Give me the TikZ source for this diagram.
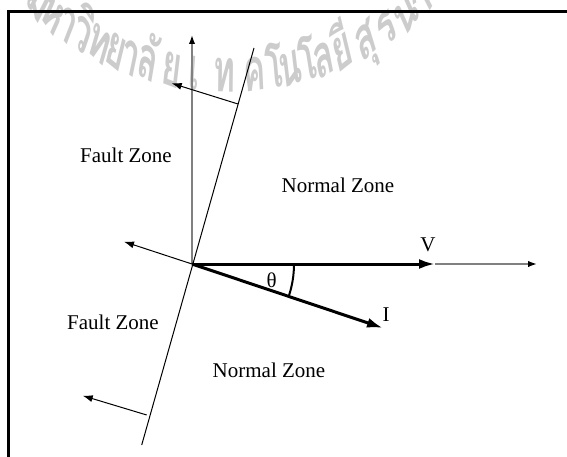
\documentclass[tikz,border=0pt]{standalone}
\usepackage{fontspec}
\setmainfont{Liberation Serif}
\newfontfamily\thaifont[Script=Thai]{Loma}
\usetikzlibrary{arrows.meta}

\begin{document}
\begin{tikzpicture}[x=0.5pt,y=0.5pt,
	every node/.style={font=\fontsize{10.5}{12}\selectfont},
	refaxis/.style={draw=gray,line width=0.75pt,-{Latex[length=4.5pt,width=3.2pt,color=black]}},
	phasor/.style={line width=1.5pt,-{Latex[length=8pt,width=5pt]}},
	faultnormal/.style={line width=0.5pt,-{Latex[length=5pt,width=3.5pt]}},
	wmark/.style={font=\thaifont\bfseries\fontsize{30}{34}\selectfont,text=gray!40,anchor=base,inner sep=0pt,xscale=0.55}]
	\useasboundingbox (0,0) rectangle (567,456);
	% watermark
	\foreach \a/\c [count=\i] in {-133/ม,-129.1/ห,-125.4/า,-121.8/วิ,-117.7/ท,-114/ย,-110.8/า,-107/ลั,-101.9/ย,-97.3/เ,-91.2/ท,-84.9/ค,-80.9/โ,-77.6/น,-73.8/โ,-70.5/ล,-66.4/ยี,-61.1/สุ,-56/ร,-51.1/น,-46.9/า,-41.9/รี}
		\node[wmark,rotate=\a+90] (wm\i) at ([shift={(\a:290)}]230,654) {\c};
	% frame
	\draw[line width=1.5pt] (8.5,-5) |- (575,444);
	% points
	\coordinate (O) at (192,192);
	\coordinate (Vend) at (435,192);
	\coordinate (Xend) at (537,192);
	\coordinate (Ytop) at (192,421);
	\coordinate (Iend) at (383,128);
	\coordinate (Lbot) at (141.7,11);
	\coordinate (Ltop) at (254,408);
	\coordinate (B1) at (238,352);
	\coordinate (B3) at (146.7,41);
	\coordinate (T1) at (171.7,372.7);
	\coordinate (T2) at (124,214.3);
	\coordinate (T3) at (82.7,60.3);
	% axes
	\draw[refaxis] (O) -- (Ytop);
	\draw[refaxis] (Vend) -- (Xend);
	\draw[line width=0.5pt] (Lbot) -- (Ltop);
	\draw[faultnormal] (B1) -- (T1);
	\draw[faultnormal] (O) -- (T2);
	\draw[faultnormal] (B3) -- (T3);
	% phasors
	\draw[phasor] (O) -- (Vend);
	\draw[phasor] (O) -- (Iend);
	\draw[line width=1pt] (O) ++(0:102) arc (0:-18.4:102);
	% labels
	\node (theta) at (271.7,176) {θ};
	\node (Vlab) at (428,211) {V};
	\node (Ilab) at (386,141) {I};
	\node (fault1) at (126,301) {Fault Zone};
	\node (normal1) at (338,271) {Normal Zone};
	\node (fault2) at (113,134) {Fault Zone};
	\node (normal2) at (269,86) {Normal Zone};
\end{tikzpicture}
\end{document}
